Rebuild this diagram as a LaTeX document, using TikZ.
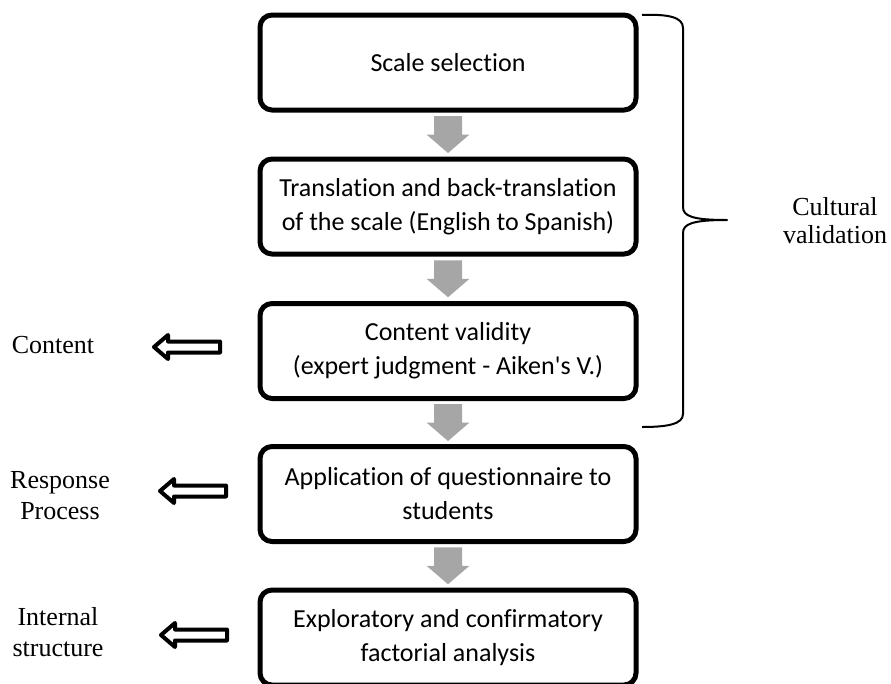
\documentclass[tikz,border=0pt]{standalone}
\usepackage{fontspec}
\setmainfont{Liberation Serif}
\newfontfamily\boxfont{Carlito}[Ligatures={TeXOff,NoCommon}]
\usetikzlibrary{calc}
\definecolor{flowgray}{RGB}{166,166,166}

\begin{document}
\begin{tikzpicture}[x=1pt,y=-1pt,
  stepbox/.style={draw=black, line width=5pt, rounded corners=12pt,
    minimum width=376pt, minimum height=95pt, inner sep=0pt, align=center,
    font=\boxfont\fontsize{26}{34}\selectfont},
  sidelabel/.style={align=center, inner sep=0pt,
    font=\fontsize{26}{31}\selectfont},
  flowarrow/.pic={
    \fill[flowgray] (-14,-18.5) -- (14,-18.5) -- (14,0) -- (21.5,0)
      -- (0,18.5) -- (-21.5,0) -- (-14,0) -- cycle;},
  backarrow/.pic={
    \draw[line width=4pt, line join=round, fill=white]
      (2,0) -- (16,-12) -- (16,-5.5) -- (68,-5.5) -- (68,5.5)
      -- (16,5.5) -- (16,12) -- cycle;}
]
\useasboundingbox (0,0) rectangle (891,683);
\clip (0,0) rectangle (891,683);

% process steps
\node[stepbox] (b1) at (448,62.5)  {Scale selection};
\node[stepbox] (b2) at (448,206.5) {Translation and back-translation\\of the scale (English to Spanish)};
\node[stepbox] (b3) at (448,351)   {Content validity\\(expert judgment - Aiken's V.)};
\node[stepbox] (b4) at (448,494)   {Application of questionnaire to\\students};
\node[stepbox] (b5) at (448,637.5) {Exploratory and confirmatory\\factorial analysis};

% grey block arrows between the steps
\pic at ($(b1.south)!0.5!(b2.north)$) {flowarrow};
\pic at ($(b2.south)!0.5!(b3.north)$) {flowarrow};
\pic at ($(b3.south)!0.5!(b4.north)$) {flowarrow};
\pic at ($(b4.south)!0.5!(b5.north)$) {flowarrow};

% brace grouping the first three steps
\draw[line width=2pt, line join=round]
  (642,15) .. controls (668,14) and (683,17) .. (683,28)
  -- (683,207) .. controls (683,216) and (692,220) .. (727,220)
  .. controls (692,220) and (683,224) .. (683,233)
  -- (683,414) .. controls (683,424) and (668,427) .. (642,427);
\node[sidelabel, font=\fontsize{26}{28}\selectfont] (cult) at (835,221) {Cultural\\validation};

% validity evidence labels
\node[sidelabel] (lcontent)  at (53,345) {Content};
\node[sidelabel] (lresponse) at (60,496) {Response\\Process};
\node[sidelabel] (linternal) at (58,632) {Internal\\structure};

\pic at (152,347) {backarrow};
\pic at (158,491) {backarrow};
\pic at (159,635) {backarrow};
\end{tikzpicture}
\end{document}
